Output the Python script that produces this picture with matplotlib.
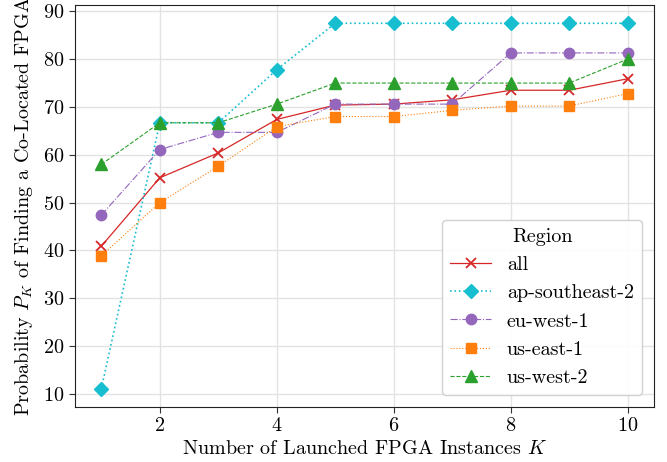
import matplotlib
matplotlib.use("Agg")
import matplotlib.pyplot as plt

plt.rcParams['font.family'] = 'serif'
plt.rcParams['font.serif'] = ['cmr10', 'DejaVu Serif']
plt.rcParams['mathtext.fontset'] = 'cm'
plt.rcParams['axes.formatter.use_mathtext'] = True
plt.rcParams['axes.unicode_minus'] = False

k = [1, 2, 3, 4, 5, 6, 7, 8, 9, 10]
all_regions = [40.9, 55.2, 60.4, 67.4, 70.4, 70.6, 71.5, 73.5, 73.5, 75.9]
ap_southeast_2 = [11.1, 66.7, 66.7, 77.8, 87.5, 87.5, 87.5, 87.5, 87.5, 87.5]
eu_west_1 = [47.4, 61.1, 64.7, 64.7, 70.6, 70.6, 70.6, 81.3, 81.3, 81.3]
us_east_1 = [38.9, 50.0, 57.6, 65.9, 68.0, 68.0, 69.3, 70.2, 70.2, 72.8]
us_west_2 = [58.0, 66.7, 66.7, 70.6, 75.0, 75.0, 75.0, 75.0, 75.0, 80.0]
labels = ['all', 'ap-southeast-2', 'eu-west-1', 'us-east-1', 'us-west-2']

fig = plt.figure(figsize=(6.67, 4.62), dpi=100)
ax = fig.add_axes([75/667, 55/462, 579/667, 402/462])

series = [all_regions, ap_southeast_2, eu_west_1, us_east_1, us_west_2]
styles = [
    dict(color='tab:red', ls='-', marker='x', lw=0.9, ms=7.5, mew=1.3),
    dict(color='tab:cyan', ls=':', marker='D', lw=1.2, ms=7.5),
    dict(color='tab:purple', ls='-.', marker='o', lw=0.8, ms=7.5),
    dict(color='tab:orange', ls=':', marker='s', lw=0.8, ms=7.5),
    dict(color='tab:green', ls='--', marker='^', lw=0.8, ms=8),
]
for y, lab, st in zip(series, labels, styles):
    ax.plot(k, y, label=lab, **st)

fs = 14.5
ax.grid(True, color='#e3e3e3', lw=1)
ax.set_axisbelow(True)
ax.set_xticks([2, 4, 6, 8, 10])
ax.set_yticks([10, 20, 30, 40, 50, 60, 70, 80, 90])
ax.tick_params(labelsize=fs, direction='out', length=4, color='#333333')
for s in ax.spines.values():
    s.set_color('#222222')
ax.set_xlabel('Number of Launched FPGA Instances $K$', fontsize=fs, labelpad=3)
ax.set_ylabel('Probability $P_K$ of Finding a Co-Located FPGA', fontsize=fs, labelpad=6)
leg = ax.legend(title='Region', loc='lower right', fontsize=fs, title_fontsize=fs,
                framealpha=0.9, edgecolor='#cccccc', borderaxespad=0.6)
fig.savefig('out.png', dpi=100)
